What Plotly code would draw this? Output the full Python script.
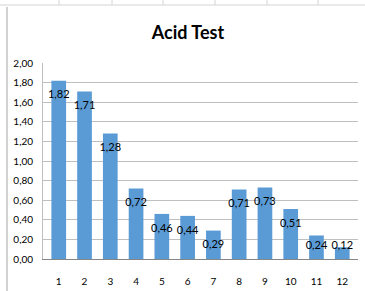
import plotly.graph_objects as go

categories = [str(i) for i in range(1, 13)]
values = [1.82, 1.71, 1.28, 0.72, 0.46, 0.44, 0.29, 0.71, 0.73, 0.51, 0.24, 0.12]
y_ticks = [0.0, 0.2, 0.4, 0.6, 0.8, 1.0, 1.2, 1.4, 1.6, 1.8, 2.0]

BLUE = "#5B9BD5"
FONT = "Lato"

label_text = [f"{v:.2f}".replace(".", ",") for v in values]
label_y = [max(v - 0.153, 0.13) for v in values]

fig = go.Figure()
fig.add_trace(go.Bar(x=categories, y=values, marker=dict(color=BLUE, line=dict(width=0)),
                     hoverinfo="skip"))
fig.add_trace(go.Scatter(x=categories, y=label_y, mode="text", text=label_text,
                         textposition="middle center", cliponaxis=False,
                         textfont=dict(family=FONT, size=11, color="#000000"),
                         hoverinfo="skip"))

W, H = 365, 291
L, R, T, B = 43, 7, 63, 32
pw, ph = W - L - R, H - T - B

def px(x):
    return (x - L) / pw

def py(y):
    return (H - B - y) / ph

shapes = []
# spreadsheet row border at top
shapes.append(dict(type="line", xref="paper", yref="paper", x0=px(0), x1=px(W), y0=py(5), y1=py(5),
                   line=dict(color="#D4D4D4", width=1)))
for cx in [59, 112, 163, 215, 267, 318]:
    shapes.append(dict(type="line", xref="paper", yref="paper", x0=px(cx), x1=px(cx), y0=py(0), y1=py(5),
                       line=dict(color="#D4D4D4", width=1)))
# chart border on left
shapes.append(dict(type="line", xref="paper", yref="paper", x0=px(7), x1=px(7), y0=py(7), y1=py(H),
                   line=dict(color="#A6A6A6", width=1)))

fig.update_layout(
    width=W, height=H, autosize=False,
    margin=dict(l=L, r=R, t=T, b=B, autoexpand=False),
    paper_bgcolor="white", plot_bgcolor="white",
    separators=",.",
    showlegend=False,
    bargap=0.43,
    title=dict(text="<b>Acid Test</b>", x=(188) / W, xanchor="center", y=1 - 33 / H, yanchor="middle",
               font=dict(family=FONT, size=18, color="#000000")),
    font=dict(family=FONT, size=10, color="#000000"),
    xaxis=dict(showgrid=False, showline=True, linecolor="#868686", linewidth=1, automargin=False,
               tickfont=dict(family=FONT, size=10), ticks="outside", ticklen=13,
               tickcolor="rgba(0,0,0,0)", fixedrange=True),
    yaxis=dict(range=[0, 2.0], tickvals=y_ticks, tickformat=".2f", showgrid=True, automargin=False,
               gridcolor="#BFBFBF", gridwidth=1, showline=True, linecolor="#BFBFBF",
               ticks="", ticklabelstandoff=7,
               tickfont=dict(family=FONT, size=10), zeroline=False, fixedrange=True),
    shapes=shapes,
)

fig.write_html("out.html", config={"displayModeBar": False},
               post_script="document.body.style.margin='0';document.body.style.overflow='hidden';")
